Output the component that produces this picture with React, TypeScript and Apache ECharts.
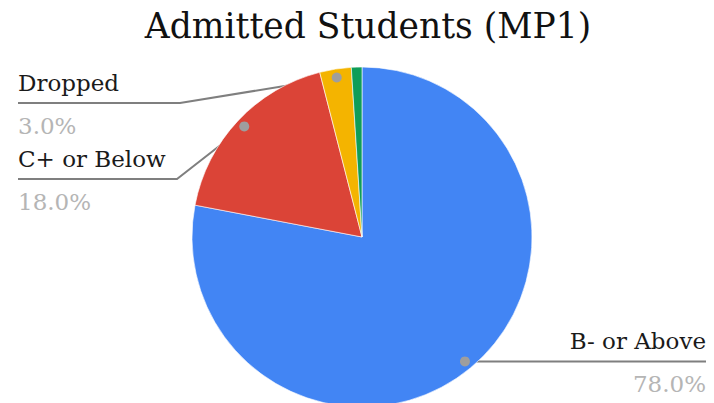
import React, { useEffect, useRef } from "react";
import * as echarts from "echarts";

const TITLE = "Admitted Students (MP1)";
const categories = ["B- or Above", "C+ or Below", "Dropped", "Other"];
const values = [78, 18, 3, 1];
const colors = ["#4285F4", "#DB4437", "#F4B400", "#0F9D58"];
const showLabel = [true, true, true, false];

const FONT = "DejaVu Serif";
const CX = 362;
const CY = 237;
const R = 170;
const DOT_K = 0.95;

// layout of each label: side, edge x, horizontal-line y (null = at dot), bend x
const labelPlacement: any[] = [
  { side: "right", edgeX: 706, lineY: null, bendX: null },
  { side: "left", edgeX: 18, lineY: 179, bendX: 177 },
  { side: "left", edgeX: 18, lineY: 103, bendX: 180 },
  null,
];

function dotPoint(i: number): [number, number] {
  const total = values.reduce((a, b) => a + b, 0);
  let cum = 0;
  for (let k = 0; k < i; k++) cum += values[k];
  const a = (2 * Math.PI * (cum + values[i] / 2)) / total;
  return [CX + DOT_K * R * Math.sin(a), CY - DOT_K * R * Math.cos(a)];
}

export default function App() {
  const ref = useRef<HTMLDivElement>(null);
  useEffect(() => {
    if (!ref.current) return;
    const chart = echarts.init(ref.current, null, { renderer: "svg" });
    const data = categories.map((name, i) => ({
      name,
      value: values[i],
      itemStyle: { color: colors[i] },
      label: { show: showLabel[i] },
      labelLine: { show: showLabel[i] },
    }));
    const dots = categories
      .map((_, i) => i)
      .filter((i) => showLabel[i])
      .map((i) => {
        const [x, y] = dotPoint(i);
        return {
          type: "circle",
          z: 100,
          shape: { cx: x, cy: y, r: 5 },
          style: { fill: "#9e9e9e" },
        };
      });
    chart.setOption({
      animation: false,
      backgroundColor: "#ffffff",
      textStyle: { fontFamily: FONT },
      title: {
        text: TITLE,
        left: 363,
        textAlign: "center",
        top: 3,
        textStyle: {
          fontFamily: FONT,
          fontSize: 34.5,
          fontWeight: "normal",
          color: "#111111",
        },
      },
      graphic: dots,
      series: [
        {
          type: "pie",
          center: [CX, CY],
          radius: R,
          startAngle: 90,
          clockwise: true,
          avoidLabelOverlap: false,
          itemStyle: { borderColor: "#ffffff", borderWidth: 0.6 },
          label: {
            position: "outside",
            fontFamily: FONT,
            formatter: (p: any) =>
              `{name|${p.name}}\n{val|${p.percent.toFixed(1)}%}`,
            rich: {
              name: {
                fontFamily: FONT,
                fontSize: 23,
                color: "#1a1a1a",
                lineHeight: 40,
              },
              val: {
                fontFamily: FONT,
                fontSize: 23,
                color: "#b5b5b5",
                lineHeight: 46,
              },
            },
          },
          labelLine: {
            show: true,
            smooth: false,
            lineStyle: { color: "#7f7f7f", width: 2 },
          },
          labelLayout: (params: any) => {
            const i = params.dataIndex;
            const pl = labelPlacement[i];
            if (!pl) return {};
            const dot = dotPoint(i);
            const lineY = pl.lineY == null ? dot[1] : pl.lineY;
            const bend: [number, number] =
              pl.bendX == null ? [(dot[0] + pl.edgeX) / 2, lineY] : [pl.bendX, lineY];
            return {
              x: pl.edgeX,
              y: lineY - 40,
              align: pl.side === "right" ? "right" : "left",
              verticalAlign: "top",
              labelLinePoints: [dot, bend, [pl.edgeX, lineY]],
            };
          },
          data,
        },
      ],
    });
    return () => chart.dispose();
  }, []);
  return (
    <div
      ref={ref}
      style={{ position: "fixed", left: 0, top: 0, width: 714, height: 403 }}
    />
  );
}
